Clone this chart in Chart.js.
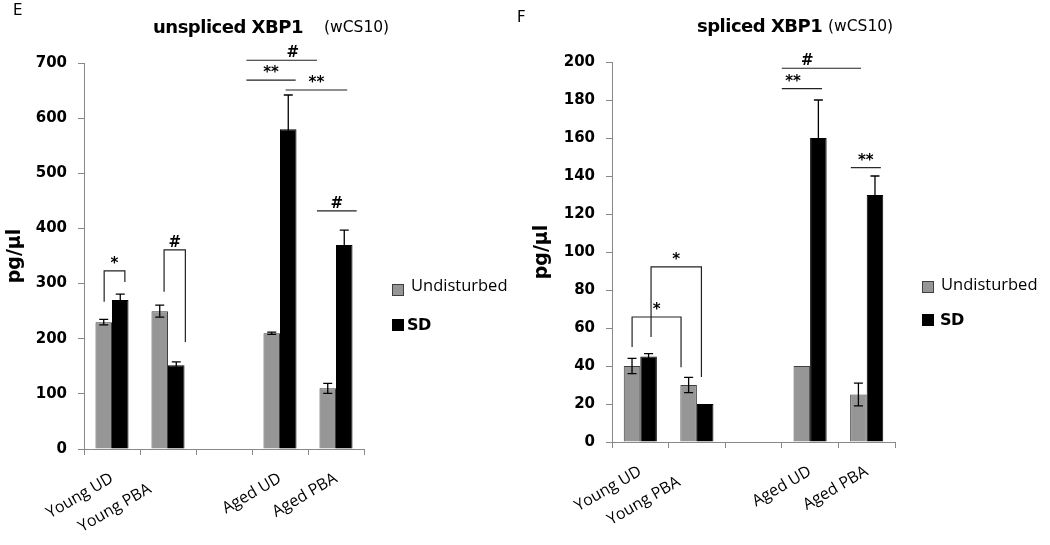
<!DOCTYPE html>
<html>
<head>
<meta charset="utf-8">
<script src="https://cdn.jsdelivr.net/npm/chart.js@4.4.1/dist/chart.umd.min.js"></script>
<style>
  body { margin: 0; background: #fff; }
  #wrap { position: relative; width: 1050px; height: 545px; overflow: hidden; background: #fff; font-family: "DejaVu Sans", sans-serif; }
  canvas { position: absolute; top: 0; }
  .txt { position: absolute; white-space: nowrap; line-height: 1; color: #000; }
  .panel { font-size: 15px; }
  .tb { font-size: 18px; font-weight: bold; letter-spacing: -0.5px; }
  .tn { font-size: 15.5px; }
  .sw { position: absolute; width: 10px; height: 10px; }
  .sw.ud { background: #969696; border: 1px solid #3f3f3f; }
  .sw.sd { background: #000; border: 1px solid #000; }
  .lg { font-family: "Open Sans", sans-serif; font-size: 16.5px; }
  .lgb { font-family: "DejaVu Sans", sans-serif; font-weight: bold; font-size: 16px; letter-spacing: -0.6px; }
</style>
</head>
<body>
<div id="wrap">
  <canvas id="chartE" width="500" height="545" style="left:0;width:500px;height:545px"></canvas>
  <canvas id="chartF" width="550" height="545" style="left:500px;width:550px;height:545px"></canvas>

  <div class="txt panel" style="left:13px;top:3px">E</div>
  <div class="txt tb" style="left:153px;top:18px">unspliced XBP1</div>
  <div class="txt tn" style="left:324px;top:20px">(wCS10)</div>
  <div class="sw ud" style="left:392px;top:284px"></div>
  <div class="txt lg" style="left:411px;top:277px">Undisturbed</div>
  <div class="sw sd" style="left:392px;top:319px"></div>
  <div class="txt lgb" style="left:407px;top:317px">SD</div>

  <div class="txt panel" style="left:517px;top:10px">F</div>
  <div class="txt tb" style="left:697px;top:17px">spliced XBP1</div>
  <div class="txt tn" style="left:828px;top:19px">(wCS10)</div>
  <div class="sw ud" style="left:922px;top:281px"></div>
  <div class="txt lg" style="left:941px;top:276px">Undisturbed</div>
  <div class="sw sd" style="left:922px;top:314px"></div>
  <div class="txt lgb" style="left:940px;top:312px">SD</div>
</div>
<script>
// trailing spaces push "Young PBA" down-left like the original rotated label
const categories = ["Young UD", "Young PBA     ", "", "Aged UD", "Aged PBA"];
const seriesNames = ["Undisturbed", "SD"];

// panel E: unspliced XBP1
const unsplicedUD = [230, 250, null, 210, 110];
const unsplicedUDErr = [5, 11, 0, 2, 9];
const unsplicedSD = [270, 152, null, 580, 370];
const unsplicedSDErr = [11, 6, 0, 62, 27];
const unsplicedYTicks = [0, 100, 200, 300, 400, 500, 600, 700];

// panel F: spliced XBP1
const splicedUD = [40, 30, null, 40, 25];
const splicedUDErr = [4, 4, 0, 0, 6];
const splicedSD = [45, 20, null, 160, 130];
const splicedSDErr = [1.5, 0, 0, 20, 10];
const splicedYTicks = [0, 20, 40, 60, 80, 100, 120, 140, 160, 180, 200];

// significance marks: x in category units, y in pg/µl (y1/y2 = bracket leg ends)
const unsplicedSig = [
  { label: "*", x1: -0.14, x2: 0.23, y: 323, y1: 267, y2: 303 },
  { label: "#", x1: 0.93, x2: 1.31, y: 361, y1: 285, y2: 194 },
  { label: "#", x1: 3.66, x2: 4.37, y: 432 },
  { label: "#", x1: 2.40, x2: 3.66, y: 705, lx: 3.23 },
  { label: "**", x1: 2.40, x2: 3.28, y: 669 },
  { label: "**", x1: 3.10, x2: 4.20, y: 651 }
];
const splicedSig = [
  { label: "*", x1: -0.145, x2: 0.72, y: 65.8, y1: 50, y2: 39.4 },
  { label: "*", x1: 0.19, x2: 1.08, y: 92.2, y1: 55.3, y2: 34.2 },
  { label: "**", x1: 3.72, x2: 4.25, y: 144.4 },
  { label: "#", x1: 2.50, x2: 3.90, y: 196.7, lx: 2.95 },
  { label: "**", x1: 2.50, x2: 3.21, y: 186, lx: 2.70 }
];

// error bars from dataset.errors
const errorBars = {
  id: "errorBars",
  afterDatasetsDraw(chart) {
    const ctx = chart.ctx, ys = chart.scales.y;
    ctx.save();
    ctx.strokeStyle = "#000";
    ctx.lineWidth = 1.3;
    chart.data.datasets.forEach((ds, i) => {
      chart.getDatasetMeta(i).data.forEach((bar, j) => {
        const v = ds.data[j], e = ds.errors[j];
        if (v == null || !e) return;
        const top = ys.getPixelForValue(v + e), bot = ys.getPixelForValue(v - e);
        ctx.beginPath();
        ctx.moveTo(bar.x, top); ctx.lineTo(bar.x, bot);
        ctx.moveTo(bar.x - 4.5, top); ctx.lineTo(bar.x + 4.5, top);
        ctx.moveTo(bar.x - 4.5, bot); ctx.lineTo(bar.x + 4.5, bot);
        ctx.stroke();
      });
    });
    ctx.restore();
  }
};

// significance lines / brackets
const sigMarks = {
  id: "sigMarks",
  afterDraw(chart, args, opts) {
    const ctx = chart.ctx, xs = chart.scales.x, ys = chart.scales.y;
    ctx.save();
    ctx.strokeStyle = "#222";
    ctx.lineWidth = 1.2;
    ctx.fillStyle = "#000";
    ctx.font = "bold 15px 'DejaVu Sans'";
    ctx.textAlign = "center";
    ctx.textBaseline = "alphabetic";
    (opts.marks || []).forEach(m => {
      const x1 = xs.getPixelForValue(m.x1), x2 = xs.getPixelForValue(m.x2);
      const y = ys.getPixelForValue(m.y);
      ctx.beginPath();
      if (m.y1 != null) {
        ctx.moveTo(x1, ys.getPixelForValue(m.y1));
        ctx.lineTo(x1, y);
        ctx.lineTo(x2, y);
        ctx.lineTo(x2, ys.getPixelForValue(m.y2));
      } else {
        ctx.moveTo(x1, y);
        ctx.lineTo(x2, y);
      }
      ctx.stroke();
      const lx = m.lx != null ? xs.getPixelForValue(m.lx) : (x1 + x2) / 2;
      ctx.fillText(m.label, lx, y - 3);
    });
    ctx.restore();
  }
};

const makeChart = (id, ud, udErr, sd, sdErr, yTicks, sig, g) => {
  const ctx = document.getElementById(id).getContext("2d");
  return new Chart(ctx, {
    type: "bar",
    data: {
      labels: categories,
      datasets: [
        { label: seriesNames[0], data: ud, errors: udErr, backgroundColor: "#969696", borderColor: "#3f3f3f", borderWidth: 1 },
        { label: seriesNames[1], data: sd, errors: sdErr, backgroundColor: "#000", borderColor: "#000", borderWidth: 1 }
      ]
    },
    options: {
      responsive: false,
      animation: false,
      devicePixelRatio: 1,
      datasets: { bar: { categoryPercentage: g.catPct, barPercentage: 1 } },
      layout: { padding: { left: g.padLeft, right: g.padRight, top: g.padTop, bottom: 0 } },
      plugins: { legend: { display: false }, tooltip: { enabled: false }, sigMarks: { marks: sig } },
      scales: {
        x: {
          offset: true,
          grid: { offset: true, drawOnChartArea: false, tickLength: 6, color: "#888" },
          border: { color: "#888" },
          ticks: { autoSkip: false, minRotation: 30, maxRotation: 30, padding: 14, color: "#000", font: { family: "Open Sans", size: 16 } },
          afterFit: s => { s.height = g.xHeight; }
        },
        y: {
          min: yTicks[0],
          max: yTicks[yTicks.length - 1],
          ticks: { stepSize: yTicks[1] - yTicks[0], padding: 11, color: "#000", font: { family: "DejaVu Sans", size: 15, weight: "bold" } },
          grid: { drawOnChartArea: false, tickLength: 6, color: "#888" },
          border: { color: "#888" },
          title: { display: true, text: "pg/µl", color: "#000", font: { family: "DejaVu Sans", size: 19, weight: "bold" } },
          afterFit: s => { s.width = g.yWidth; }
        }
      }
    },
    plugins: [errorBars, sigMarks]
  });
};

makeChart("chartE", unsplicedUD, unsplicedUDErr, unsplicedSD, unsplicedSDErr, unsplicedYTicks, unsplicedSig,
  { catPct: 0.59, padLeft: 0, padRight: 136, padTop: 63, yWidth: 84, xHeight: 96 });
makeChart("chartF", splicedUD, splicedUDErr, splicedSD, splicedSDErr, splicedYTicks, splicedSig,
  { catPct: 0.585, padLeft: 27, padRight: 155, padTop: 62, yWidth: 85, xHeight: 103 });
</script>
</body>
</html>
